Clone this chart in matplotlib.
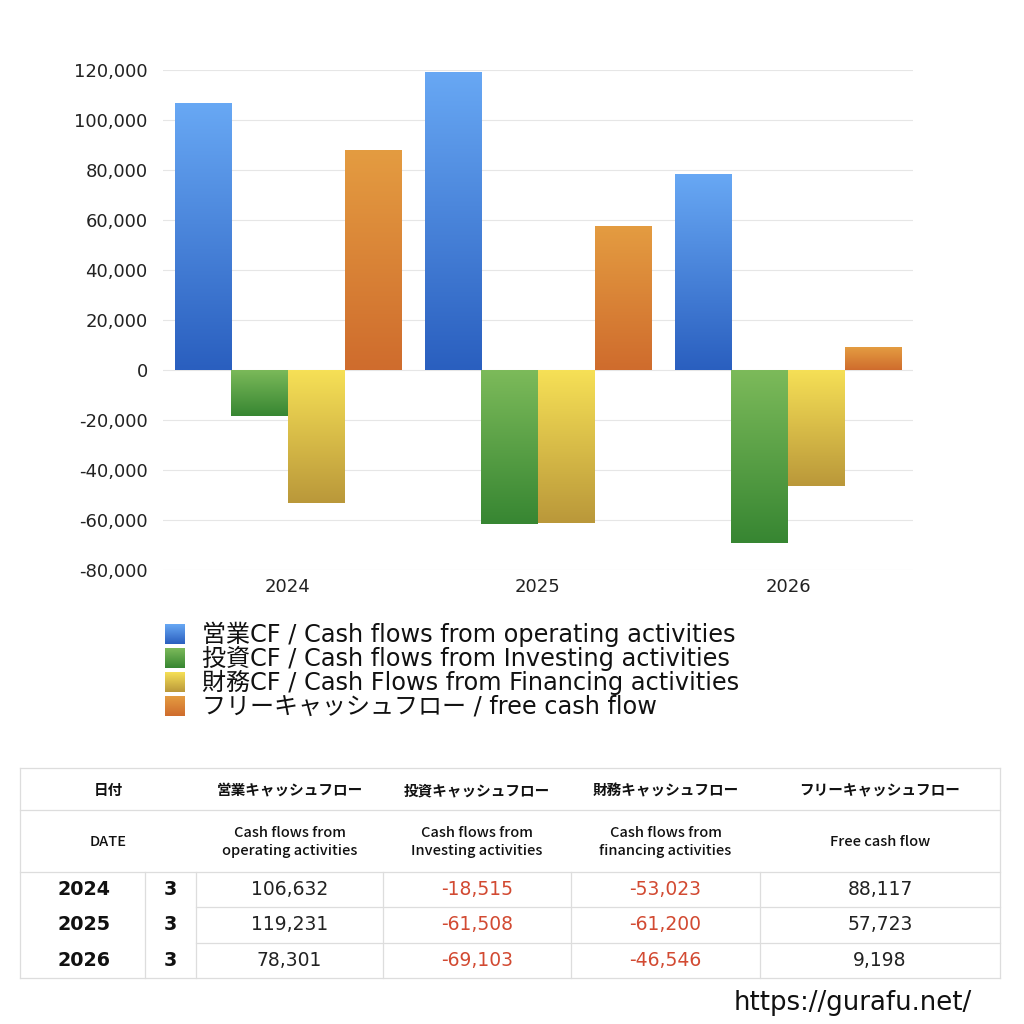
import matplotlib
matplotlib.use("Agg")
import matplotlib.pyplot as plt
import matplotlib.colors as mcolors
import numpy as np
from matplotlib.ticker import FuncFormatter

plt.rcParams['font.family'] = ['DejaVu Sans', 'Noto Sans CJK JP']

years = ["2024", "2025", "2026"]
months = ["3", "3", "3"]
operating = [106632, 119231, 78301]
investing = [-18515, -61508, -69103]
financing = [-53023, -61200, -46546]
free_cf = [88117, 57723, 9198]

series_labels = [
    "営業CF / Cash flows from operating activities",
    "投資CF / Cash flows from Investing activities",
    "財務CF / Cash Flows from Financing activities",
    "フリーキャッシュフロー / free cash flow",
]
header_jp = ["日付", "営業キャッシュフロー", "投資キャッシュフロー", "財務キャッシュフロー", "フリーキャッシュフロー"]
header_en = ["DATE", "Cash flows from\noperating activities", "Cash flows from\nInvesting activities",
             "Cash flows from\nfinancing activities", "Free cash flow"]
yticks = [-80000, -60000, -40000, -20000, 0, 20000, 40000, 60000, 80000, 100000, 120000]

grads = [("#68a8f4", "#2a5fbf"), ("#7cba5a", "#378632"), ("#f6e056", "#ba983a"), ("#e49c41", "#cf6c2d")]

W = 1024
fig = plt.figure(figsize=(10.24, 10.24), dpi=100)
ax = fig.add_axes([163 / W, 1 - 570 / W, 750 / W, 500 / W])

series = [operating, investing, financing, free_cf]
x = np.arange(len(years))
bw = 0.227

def gradient_img(c1, c2):
    a = np.array(mcolors.to_rgb(c1))
    b = np.array(mcolors.to_rgb(c2))
    t = np.linspace(0, 1, 128)[:, None]
    return (a * (1 - t) + b * t)[:, None, :]

for i, (vals, (c1, c2)) in enumerate(zip(series, grads)):
    bars = ax.bar(x + (i - 1.5) * bw, vals, width=bw, color="none", edgecolor="none", zorder=3)
    img = gradient_img(c1, c2)
    for r in bars:
        x0, y0 = r.get_x(), r.get_y()
        w, h = r.get_width(), r.get_height()
        top, bot = max(y0, y0 + h), min(y0, y0 + h)
        im = ax.imshow(img, extent=[x0, x0 + w, bot, top], aspect="auto", origin="upper", zorder=3,
                       interpolation="bilinear")
        im.set_clip_path(r)

ax.set_xlim(-0.5, 2.5)
ax.set_ylim(-80000, 120000)
ax.set_yticks(yticks)
ax.yaxis.set_major_formatter(FuncFormatter(lambda v, p: f"{int(v):,}"))
ax.set_xticks(x)
ax.set_xticklabels(years)
ax.tick_params(axis="y", length=0, labelsize=13, colors="#222222", pad=11)
ax.tick_params(axis="x", length=0, labelsize=13, colors="#222222", pad=6)
ax.grid(axis="y", color="#e6e6e6", linewidth=0.8, zorder=0)
for s in ax.spines.values():
    s.set_visible(False)

# overlay axes for legend and table in pixel coordinates
ov = fig.add_axes([0, 0, 1, 1], zorder=5)
ov.axis("off")
ov.patch.set_alpha(0)

leg_y = [634, 658, 682, 706]
for (c1, c2), lab, yy in zip(grads, series_labels, leg_y):
    ov.imshow(gradient_img(c1, c2), extent=[165, 185, yy + 10, yy - 10], aspect="auto",
              interpolation="bilinear", zorder=6)
    ov.text(202, yy, lab, fontsize=17.3, va="center", ha="left", color="#111111")
ov.set_xlim(0, W)
ov.set_ylim(W, 0)

# table
line_c = "#dddddd"
lw = 0.9
xl, xr = 20, 1000
col_x = [20, 145, 196, 383, 571, 760, 1000]
d_rows = [872, 907, 943, 978]
for yy in [768, 810, 872, 978]:
    ov.plot([xl, xr], [yy, yy], color=line_c, lw=lw, zorder=6)
for yy in d_rows[1:-1]:
    ov.plot([196, xr], [yy, yy], color=line_c, lw=lw, zorder=6)
ov.plot([xl, xl], [768, 978], color=line_c, lw=lw, zorder=6)
ov.plot([xr, xr], [768, 978], color=line_c, lw=lw, zorder=6)
for cx in col_x[1:-1]:
    ov.plot([cx, cx], [872, 978], color=line_c, lw=lw, zorder=6)

hdr_cx = [(20 + 196) / 2] + [(col_x[k] + col_x[k + 1]) / 2 for k in range(2, 6)]
for cx, tj, te in zip(hdr_cx, header_jp, header_en):
    ov.text(cx, 790, tj, fontsize=10.5, fontweight="bold", ha="center", va="center", color="#111111",
            family=['Noto Sans CJK JP', 'DejaVu Sans'])
    ov.text(cx, 842, te, fontsize=10.5, ha="center", va="center", color="#111111",
            linespacing=1.3, family=['Noto Sans CJK JP', 'DejaVu Sans'], fontweight="medium")

red = "#d24a32"
for r in range(len(years)):
    yc = (d_rows[r] + d_rows[r + 1]) / 2
    ov.text(84, yc, years[r], fontsize=13.8, fontweight="bold", ha="center", va="center", color="#111111")
    ov.text(170, yc, months[r], fontsize=13.8, fontweight="bold", ha="center", va="center", color="#111111")
    for k, vals in enumerate(series):
        v = vals[r]
        cx = (col_x[k + 2] + col_x[k + 3]) / 2
        ov.text(cx, yc, f"{v:,}", fontsize=13.5, ha="center", va="center",
                color=red if v < 0 else "#222222")

ov.text(972, 1003, "https://gurafu.net/", fontsize=18.7, ha="right", va="center", color="#111111")

fig.savefig("out.png", dpi=100, facecolor="white")
